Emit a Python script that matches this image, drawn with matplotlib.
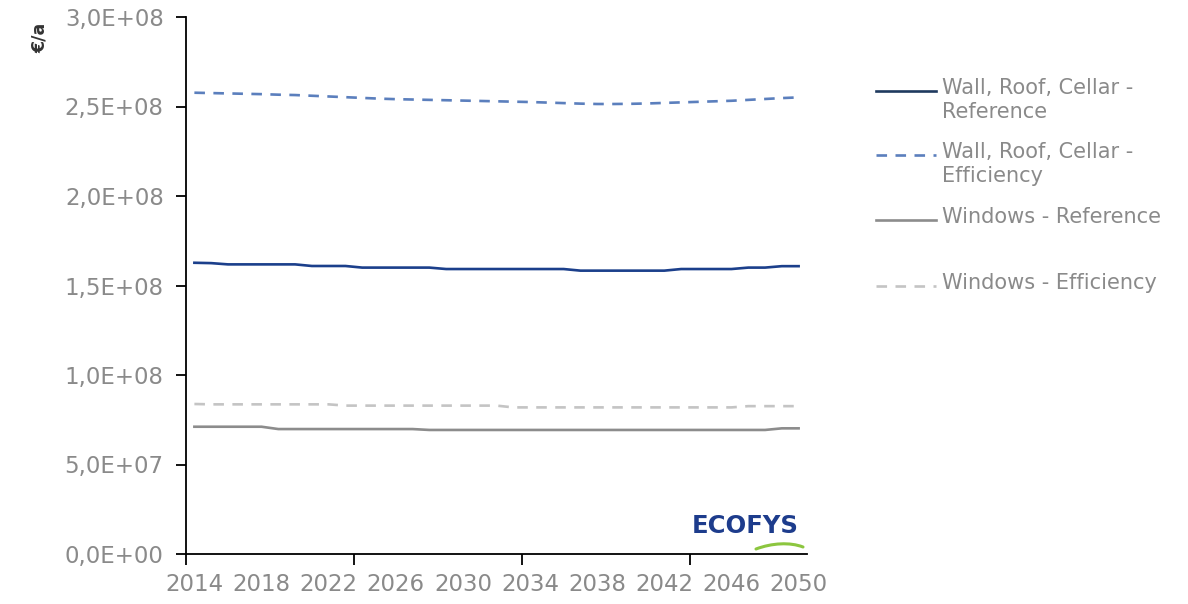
import numpy as np
import matplotlib
matplotlib.use("Agg")
import matplotlib.pyplot as plt
from matplotlib.lines import Line2D
from matplotlib.patches import PathPatch
from matplotlib.path import Path
from matplotlib.ticker import FuncFormatter, FixedLocator

# datos (EUR por año)
anios = list(range(2014, 2051))

muro_ref = [1.627, 1.625, 1.618, 1.618, 1.618, 1.618, 1.618, 1.609, 1.609, 1.609,
            1.600, 1.600, 1.600, 1.600, 1.600, 1.592, 1.592, 1.592, 1.592, 1.592,
            1.592, 1.592, 1.592, 1.583, 1.583, 1.583, 1.583, 1.583, 1.583, 1.592,
            1.592, 1.592, 1.592, 1.600, 1.600, 1.608, 1.608]
muro_efi = [2.577, 2.575, 2.573, 2.571, 2.569, 2.566, 2.564, 2.560, 2.556, 2.552,
            2.548, 2.544, 2.541, 2.539, 2.537, 2.535, 2.533, 2.531, 2.529, 2.527,
            2.525, 2.522, 2.519, 2.516, 2.514, 2.514, 2.515, 2.517, 2.520, 2.523,
            2.526, 2.529, 2.532, 2.537, 2.542, 2.547, 2.551]
vent_ref = [0.711, 0.711, 0.711, 0.711, 0.711, 0.698, 0.698, 0.698, 0.698, 0.698,
            0.698, 0.698, 0.698, 0.698, 0.693, 0.693, 0.693, 0.693, 0.693, 0.693,
            0.693, 0.693, 0.693, 0.693, 0.693, 0.693, 0.693, 0.693, 0.693, 0.693,
            0.693, 0.693, 0.693, 0.693, 0.693, 0.702, 0.702]
vent_efi = [0.838, 0.836, 0.836, 0.836, 0.836, 0.836, 0.836, 0.836, 0.836, 0.829,
            0.829, 0.829, 0.829, 0.829, 0.829, 0.829, 0.829, 0.829, 0.829, 0.819,
            0.819, 0.819, 0.819, 0.819, 0.819, 0.819, 0.819, 0.819, 0.819, 0.819,
            0.819, 0.819, 0.819, 0.826, 0.826, 0.826, 0.826]

nombres = ["Wall, Roof, Cellar -\nReference", "Wall, Roof, Cellar -\nEfficiency",
           "Windows - Reference", "Windows - Efficiency"]
etiquetas_x = list(range(2014, 2051, 4))

W, H = 1188, 604
fig = plt.figure(figsize=(W / 100, H / 100), dpi=100)
ax = fig.add_axes([186 / W, 1 - 554 / H, 621 / W, 537 / H])

gris = "#8a8a8a"
estilos = [
    dict(color="#1b3f8b", lw=1.9),
    dict(color="#5b7fbd", lw=1.9, dashes=(4, 3.2)),
    dict(color="#8c8c8c", lw=1.9),
    dict(color="#c4c4c4", lw=1.9, dashes=(4, 3.2)),
]
series = [muro_ref, muro_efi, vent_ref, vent_efi]
for s, est in zip(series, estilos):
    ax.plot(anios, np.array(s) * 1e8, **est)

ax.set_xlim(2013.5, 2050.5)
ax.set_ylim(0, 3e8)
ax.set_yticks(np.arange(0, 3.01e8, 0.5e8))
ax.yaxis.set_major_formatter(FuncFormatter(lambda v, p: f"{v:.1E}".replace(".", ",")))
ax.set_xticks(etiquetas_x)
ax.xaxis.set_minor_locator(FixedLocator([2013.5, 2023.5, 2033.5, 2043.5]))
ax.tick_params(axis="x", which="major", length=0, pad=14, labelsize=16.5, labelcolor=gris)
ax.tick_params(axis="x", which="minor", length=8, width=1.3, direction="out")
ax.tick_params(axis="y", length=7, width=1.3, pad=9, labelsize=16.5, labelcolor=gris)
for lado in ["top", "right"]:
    ax.spines[lado].set_visible(False)
for lado in ["left", "bottom"]:
    ax.spines[lado].set_linewidth(1.3)

fig.text(40 / W, 1 - 38 / H, "€/a", rotation=90, ha="center", va="center",
         fontsize=12.5, fontweight="bold", color="#333333")

# leyenda manual (estilo excel: linea alineada con la primera linea de texto)
filas = [91, 155, 220, 286]
estilos_ley = [dict(color="#1f3a5f", lw=1.9), estilos[1], estilos[2], estilos[3]]
for y, nom, est in zip(filas, nombres, estilos_ley):
    yf = 1 - y / H
    fig.add_artist(Line2D([876 / W, 936 / W], [yf, yf], transform=fig.transFigure, **est))
    fig.text(942 / W, 1 - (y - 13) / H, nom, ha="left", va="top", fontsize=15,
             color=gris, linespacing=1.22)

# logo
fig.text(745 / W, 1 - 526 / H, "ECOFYS", ha="center", va="center", fontsize=17.5,
         color="#1d3c8c", fontweight="bold", family="DejaVu Sans")
verts = [(756 / W, 1 - 549 / H), (772 / W, 1 - 543 / H), (790 / W, 1 - 542 / H), (803 / W, 1 - 547 / H)]
swoosh = Path(verts, [Path.MOVETO, Path.CURVE4, Path.CURVE4, Path.CURVE4])
fig.add_artist(PathPatch(swoosh, transform=fig.transFigure, fill=False,
                         edgecolor="#8cc63f", lw=2.2, capstyle="round"))

fig.savefig("out.png", dpi=100)
